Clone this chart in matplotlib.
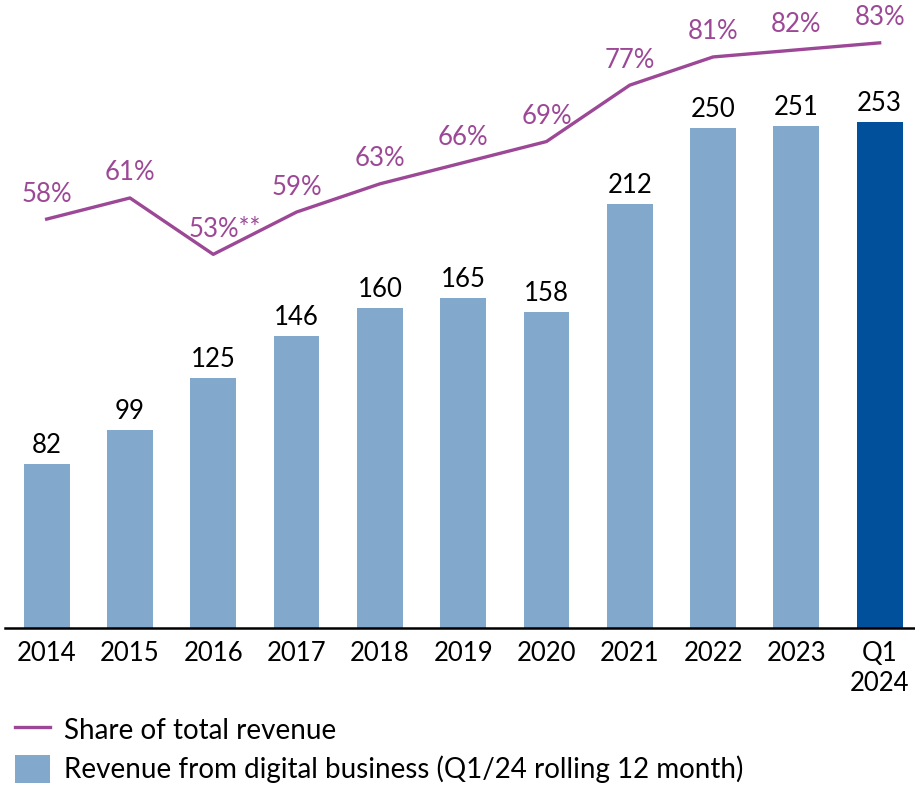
import matplotlib
matplotlib.use("Agg")
from matplotlib import pyplot as plt
from matplotlib.lines import Line2D
from matplotlib.patches import Patch
import numpy as np

# data
labels = ["2014", "2015", "2016", "2017", "2018", "2019", "2020", "2021", "2022", "2023", "Q1\n2024"]
revenue = [82, 99, 125, 146, 160, 165, 158, 212, 250, 251, 253]
share = [58, 61, 53, 59, 63, 66, 69, 77, 81, 82, 83]
share_text = ["58%", "61%", "53%", "59%", "63%", "66%", "69%", "77%", "81%", "82%", "83%"]

LIGHT = "#82a8cc"
DARK = "#00509b"
PURPLE = "#9c4896"

plt.rcParams['font.family'] = ['Lato', 'DejaVu Sans']
plt.rcParams['font.size'] = 18

fig = plt.figure(figsize=(9.15, 7.85), dpi=100)
ax = fig.add_axes([5 / 915, 157 / 785, 910 / 915, 628 / 785])
x = np.arange(len(labels))
colors = [LIGHT] * (len(labels) - 1) + [DARK]
bars = ax.bar(x, revenue, width=0.55, color=colors, zorder=2)
ax.bar_label(bars, labels=[str(v) for v in revenue], padding=4, fontsize=18.5, color="black")

ax.set_xlim(-0.5, -0.5 + 910 / 83.3)
ax.set_ylim(0, 314)
for s in ["top", "right", "left"]:
    ax.spines[s].set_visible(False)
ax.spines["bottom"].set_linewidth(1.8)
ax.set_yticks([])
ax.set_xticks(x)
ax.set_xticklabels(labels, fontsize=18.5, linespacing=1.25)
ax.tick_params(axis="x", length=0, pad=9.5)

ax2 = ax.twinx()
ax2.set_ylim(0, 628 / 7.05)
ax2.axis("off")
ax2.plot(x, share, color=PURPLE, linewidth=2.4, zorder=3)
for i, (v, t) in enumerate(zip(share, share_text)):
    if i == 2:
        ax2.annotate(t + "**", (i, v), xytext=(-18, 9), textcoords="offset points",
                     ha="left", va="bottom", color=PURPLE, fontsize=18.5)
    else:
        ax2.annotate(t, (i, v), xytext=(0, 9), textcoords="offset points",
                     ha="center", va="bottom", color=PURPLE, fontsize=18.5)

handles = [Line2D([0], [0], color=PURPLE, linewidth=2.4),
           Patch(facecolor=LIGHT, edgecolor="none")]
fig.legend(handles, ["Share of total revenue", "Revenue from digital business (Q1/24 rolling 12 month)"],
           loc="upper left", bbox_to_anchor=(4 / 915, 81 / 785), frameon=False, fontsize=20,
           handlelength=1.25, handleheight=1.2, labelspacing=0.4, handletextpad=0.5,
           borderaxespad=0, borderpad=0.4)

fig.savefig("out.png", dpi=100)
